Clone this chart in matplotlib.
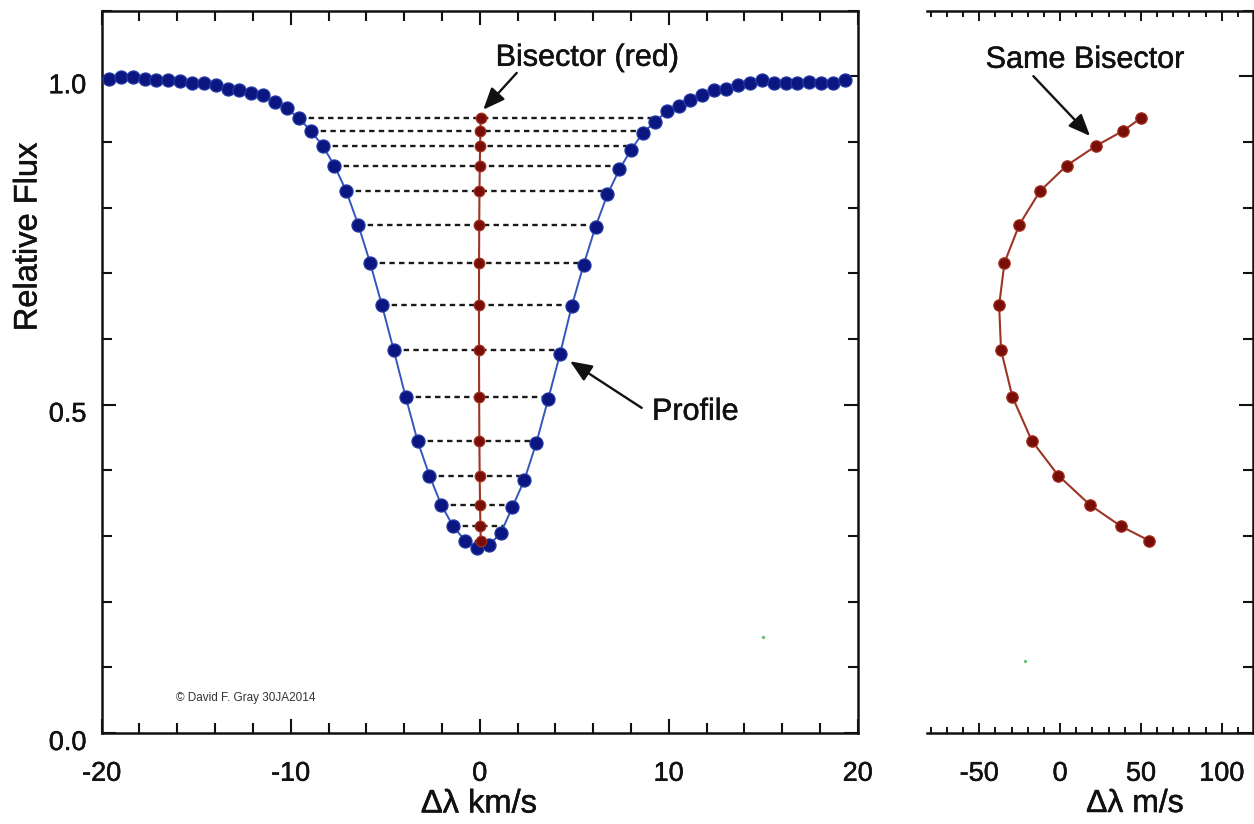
import numpy as np
import matplotlib
matplotlib.use("Agg")
import matplotlib.pyplot as plt
from matplotlib.ticker import MultipleLocator
from matplotlib.transforms import ScaledTranslation
import matplotlib.patheffects as pe

plt.rcParams['font.family'] = ['Liberation Sans', 'DejaVu Sans']

# Line profile: velocity (km/s) and relative flux
velocity_kms = [
    -19.62, -18.99, -18.36, -17.73, -17.11, -16.48, -15.85, -15.22, -14.59, -13.97,
    -13.34, -12.71, -12.08, -11.45, -10.83, -10.20, -9.57, -8.94, -8.31, -7.69,
    -7.06, -6.43, -5.80, -5.17, -4.55, -3.92, -3.29, -2.66, -2.03, -1.41,
    -0.78, -0.15, 0.48, 1.11, 1.73, 2.36, 2.99, 3.62, 4.25, 4.87,
    5.50, 6.13, 6.76, 7.39, 8.01, 8.64, 9.27, 9.90, 10.53, 11.15,
    11.78, 12.41, 13.04, 13.67, 14.29, 14.92, 15.55, 16.18, 16.81, 17.43,
    18.06, 18.69, 19.32,
]
flux = [
    0.996, 0.999, 0.998, 0.996, 0.994, 0.994, 0.992, 0.989, 0.989, 0.986,
    0.980, 0.979, 0.974, 0.971, 0.960, 0.951, 0.936, 0.917, 0.894, 0.864,
    0.825, 0.774, 0.716, 0.651, 0.583, 0.512, 0.445, 0.392, 0.347, 0.315,
    0.293, 0.282, 0.286, 0.304, 0.344, 0.385, 0.441, 0.508, 0.577, 0.650,
    0.713, 0.771, 0.820, 0.858, 0.888, 0.914, 0.930, 0.947, 0.954, 0.964,
    0.972, 0.979, 0.981, 0.986, 0.989, 0.994, 0.990, 0.990, 0.990, 0.991,
    0.990, 0.989, 0.994,
]

# Bisector: flux levels and midpoint velocity (m/s)
bisector_flux = [0.936, 0.917, 0.894, 0.864, 0.825, 0.774, 0.716, 0.651,
                 0.583, 0.512, 0.445, 0.392, 0.347, 0.315, 0.293]
bisector_ms = [49.9, 39.1, 22.3, 4.1, -12.4, -25.2, -34.4, -37.7,
               -36.5, -29.5, -17.5, -1.1, 18.6, 37.5, 55.0]

# stray specks
speck_left = ([15.0], [0.146])
speck_right = ([-21.6], [0.110])

x_ticks_left = [-20, -10, 0, 10, 20]
x_ticks_right = [-50, 0, 50, 100]
y_ticks = [0.0, 0.5, 1.0]

W, H = 1254, 824
fig = plt.figure(figsize=(W / 100, H / 100), dpi=100)
fig.patch.set_facecolor('white')

INK = '#111111'
heavy = [pe.withStroke(linewidth=0.35, foreground=INK)]


def px_rect(x0, x1, ytop, ybot):
    return [x0 / W, (H - ybot) / H, (x1 - x0) / W, (ybot - ytop) / H]


ax = fig.add_axes(px_rect(101.7, 857.7, 10.5, 733))
ax2 = fig.add_axes(px_rect(927, 1252.5, 10.5, 733))

BLUE_LINE = '#3456bf'
BLUE_DOT = '#0c1680'
BLUE_EDGE = '#2238a4'
RED_LINE = '#9c3526'
RED_DOT = '#780e07'
RED_EDGE = '#a3301f'

v = np.array(velocity_kms)
f = np.array(flux)
bf = np.array(bisector_flux)
bv = np.array(bisector_ms)

# Dashed chords between the two wings at each bisector level
ic = int(np.argmin(f))
left_x = np.interp(bf, f[:ic + 1][::-1], v[:ic + 1][::-1])
right_x = np.interp(bf, f[ic:ic + 17], v[ic:ic + 17])
for lx, rx, lev in zip(left_x, right_x, bf):
    ax.plot([lx, rx], [lev, lev], color='#1a1a1a', lw=1.7,
            linestyle=(0, (2.3, 1.8)), zorder=2)

ax.plot(v, f, color=BLUE_LINE, lw=1.4, zorder=3)
ax.plot(v, f, 'o', ms=9.4, mfc=BLUE_DOT, mec=BLUE_EDGE, mew=0.9, zorder=4)

ax.plot(bv / 1000.0, bf, color=RED_LINE, lw=1.5, zorder=5)
ax.plot(bv / 1000.0, bf, 'o', ms=7.6, mfc=RED_DOT, mec=RED_EDGE, mew=0.9, zorder=6)

ax.plot(*speck_left, 'o', ms=2.4, mfc='#6cbf7c', mec='none', zorder=1)

ax2.plot(bv, bf, color=RED_LINE, lw=1.5, zorder=3)
ax2.plot(bv, bf, 'o', ms=8.2, mfc=RED_DOT, mec=RED_EDGE, mew=0.9, zorder=4)
ax2.plot(*speck_right, 'o', ms=2.4, mfc='#6cbf7c', mec='none', zorder=1)

# Axes limits and ticks
ax.set_xlim(-20, 20)
ax.set_ylim(0, 1.10)
ax2.set_xlim(-82.3, 119.0)
ax2.set_ylim(0, 1.10)

for a in (ax, ax2):
    for s in a.spines.values():
        s.set_linewidth(1.8)
        s.set_color(INK)

ax.xaxis.set_major_locator(MultipleLocator(10))
ax.xaxis.set_minor_locator(MultipleLocator(2))
ax.set_xticks(x_ticks_left)
ax.set_xticklabels([f'{t:d}' for t in x_ticks_left])
ax.yaxis.set_minor_locator(MultipleLocator(0.1))
ax.set_yticks(y_ticks)
ax.set_yticklabels([f'{t:.1f}' for t in y_ticks])
ax.tick_params(which='both', direction='in', top=True, right=True,
               width=1.5, colors=INK, labelsize=19.5)
ax.tick_params(axis='x', which='both', pad=20)
ax.tick_params(axis='y', which='both', pad=11)
ax.tick_params(which='major', length=10)
ax.tick_params(which='minor', length=7)

ax2.spines['left'].set_visible(False)
ax2.set_xticks(x_ticks_right)
ax2.set_xticklabels([f'{t:d}' for t in x_ticks_right])
ax2.xaxis.set_minor_locator(MultipleLocator(10))
ax2.set_yticks(y_ticks)
ax2.yaxis.set_minor_locator(MultipleLocator(0.1))
ax2.tick_params(axis='x', which='both', direction='in', top=True, bottom=True,
                width=1.4, colors=INK, labelsize=19.5, pad=20)
ax2.tick_params(axis='x', which='major', length=7.5)
ax2.tick_params(axis='x', which='minor', length=4)
ax2.tick_params(axis='y', which='both', direction='in', left=False, right=True,
                labelleft=False, labelright=False, width=1.5, colors=INK)
ax2.tick_params(axis='y', which='major', length=10)
ax2.tick_params(axis='y', which='minor', length=7)

# y labels sit slightly below their ticks
shift = ScaledTranslation(0, -7 / 100, fig.dpi_scale_trans)
for lbl in ax.get_yticklabels():
    lbl.set_transform(lbl.get_transform() + shift)
for lbl in ax.get_xticklabels() + ax.get_yticklabels() + ax2.get_xticklabels():
    lbl.set_path_effects(heavy)

# Axis titles
fig.text(28 / W, 1 - 237 / H, 'Relative Flux', rotation=90, fontsize=23.5,
         ha='center', va='center', color=INK, path_effects=heavy)
fig.text(479 / W, 1 - 804 / H, 'Δλ km/s', fontsize=23.5,
         ha='center', va='center', color=INK, path_effects=heavy)
fig.text(1135 / W, 1 - 804 / H, 'Δλ m/s', fontsize=23,
         ha='center', va='center', color=INK, path_effects=heavy)

# Annotations
arrow = dict(arrowstyle='-|>,head_length=0.6,head_width=0.25', lw=1.7,
             color=INK, shrinkA=0, shrinkB=0, mutation_scale=22)
ax.text(5.68, 1.028, 'Bisector (red)', fontsize=22, ha='center', va='center',
        color=INK, path_effects=heavy)
ax.annotate('', xy=(0.19, 0.949), xytext=(1.96, 1.005), arrowprops=arrow)
ax.text(11.39, 0.489, 'Profile', fontsize=22, ha='center', va='center',
        color=INK, path_effects=heavy)
ax.annotate('', xy=(4.78, 0.566), xytext=(8.57, 0.495), arrowprops=arrow)
ax2.text(15.2, 1.025, 'Same Bisector', fontsize=22, ha='center', va='center',
         color=INK, path_effects=heavy)
ax2.annotate('', xy=(18.55, 0.909), xytext=(-16.5, 1.0), arrowprops=arrow)

ax.text(-12.36, 0.053, '© David F. Gray 30JA2014', fontsize=8.5, ha='center',
        va='center', color='#333333')

fig.savefig('out.png', dpi=100, facecolor='white')
